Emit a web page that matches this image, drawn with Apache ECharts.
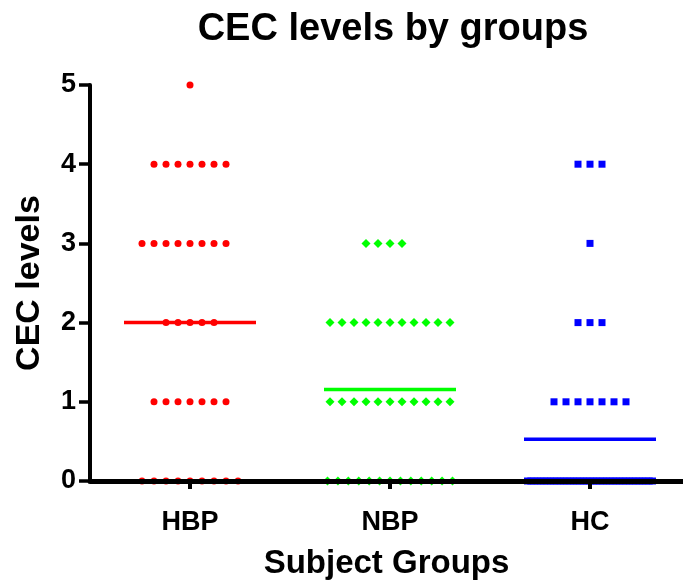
<!DOCTYPE html>
<html>
<head>
<meta charset="utf-8">
<script src="https://cdn.jsdelivr.net/npm/echarts@6/dist/echarts.min.js"></script>
<style>
  html, body { margin: 0; padding: 0; background: #fff; }
  #chart { width: 683px; height: 585px; }
</style>
</head>
<body>
<div id="chart"></div>
<script>
// Subject groups shown along the x axis
const groups = ['HBP', 'NBP', 'HC'];

// Individual CEC levels per subject, one array per group
const hbpValues = [5,
  4, 4, 4, 4, 4, 4, 4,
  3, 3, 3, 3, 3, 3, 3, 3,
  2, 2, 2, 2, 2,
  1, 1, 1, 1, 1, 1, 1,
  0, 0, 0, 0, 0, 0, 0, 0, 0];
const nbpValues = [3, 3, 3, 3,
  2, 2, 2, 2, 2, 2, 2, 2, 2, 2, 2,
  1, 1, 1, 1, 1, 1, 1, 1, 1, 1, 1,
  0, 0, 0, 0, 0, 0, 0, 0, 0, 0, 0, 0, 0];
const hcValues = [4, 4, 4,
  3,
  2, 2, 2,
  1, 1, 1, 1, 1, 1, 1,
  0, 0, 0, 0, 0, 0, 0, 0, 0, 0, 0, 0, 0, 0, 0, 0, 0, 0, 0, 0,
  0, 0, 0, 0, 0, 0, 0, 0, 0, 0, 0, 0, 0, 0, 0, 0, 0, 0, 0];

// Y axis tick labels
const yTicks = [0, 1, 2, 3, 4, 5];

const groupValues = [hbpValues, nbpValues, hcValues];
const colors = ['#ff0000', '#00ff00', '#0000ff'];
const symbols = ['circle', 'diamond', 'rect'];
const symbolSizes = [7, 9, 7];

const FONT = '"Liberation Sans", Arial, sans-serif';
const PX_PER_UNIT = 200;           // horizontal pixels per group slot
const DOT_STEP = 12 / PX_PER_UNIT; // spacing between side-by-side points
const ROW_MAX = 125 / PX_PER_UNIT; // widest a row of points may spread
const MEAN_HALF = 0.33;            // half width of the mean bar

// Column-scatter layout: points sharing a value are spread in a row
function spread(values, center) {
  const counts = {};
  values.forEach(v => { counts[v] = (counts[v] || 0) + 1; });
  const seen = {};
  return values.map(v => {
    const n = counts[v];
    const i = seen[v] = (seen[v] === undefined ? 0 : seen[v] + 1);
    const step = n > 1 ? Math.min(DOT_STEP, ROW_MAX / (n - 1)) : 0;
    return [center + (i - Math.floor(n / 2)) * step, v];
  });
}

function mean(values) {
  return values.reduce((a, b) => a + b, 0) / values.length;
}

const series = [];
groupValues.forEach((vals, g) => {
  const m = mean(vals);
  series.push({
    type: 'line',
    data: [[g - MEAN_HALF, m], [g + MEAN_HALF, m]],
    symbol: 'none',
    lineStyle: { color: colors[g], width: 3.5 },
    z: 1,
    silent: true
  });
  series.push({
    type: 'scatter',
    data: spread(vals, g),
    symbol: symbols[g],
    symbolSize: symbolSizes[g],
    itemStyle: { color: colors[g], opacity: 1 },
    z: 2
  });
});

const chart = echarts.init(document.getElementById('chart'), null, { renderer: 'canvas' });
chart.setOption({
  animation: false,
  backgroundColor: '#ffffff',
  title: {
    text: 'CEC levels by groups',
    left: 388,
    top: 6,
    textAlign: 'center',
    textStyle: { fontFamily: FONT, fontSize: 38, fontWeight: 'bold', color: '#000' }
  },
  grid: { left: 90, right: 0, top: 85, bottom: 100, containLabel: false },
  xAxis: {
    type: 'value',
    min: -0.5,
    max: 2.465,
    z: 10,
    splitLine: { show: false },
    axisLine: { onZero: false, lineStyle: { color: '#000', width: 5 } },
    axisTick: { show: true, customValues: [0, 1, 2], length: 8, lineStyle: { color: '#000', width: 4 } },
    axisLabel: {
      customValues: [0, 1, 2],
      formatter: v => groups[Math.round(v)],
      margin: 28,
      fontFamily: FONT, fontSize: 27, fontWeight: 'bold', color: '#000'
    },
    name: 'Subject Groups',
    nameLocation: 'middle',
    nameGap: 66,
    nameTextStyle: { fontFamily: FONT, fontSize: 33, fontWeight: 'bold', color: '#000' }
  },
  yAxis: {
    type: 'value',
    min: yTicks[0],
    max: yTicks[yTicks.length - 1],
    interval: 1,
    z: 10,
    splitLine: { show: false },
    axisLine: { show: true, onZero: false, lineStyle: { color: '#000', width: 4 } },
    axisTick: { show: true, length: 11, lineStyle: { color: '#000', width: 3.5 } },
    axisLabel: {
      margin: 14,
      fontFamily: FONT, fontSize: 27, fontWeight: 'bold', color: '#000'
    },
    name: 'CEC levels',
    nameLocation: 'middle',
    nameRotate: 90,
    nameGap: 43,
    nameTextStyle: { fontFamily: FONT, fontSize: 34, fontWeight: 'bold', color: '#000' }
  },
  series: series
});
</script>
</body>
</html>
